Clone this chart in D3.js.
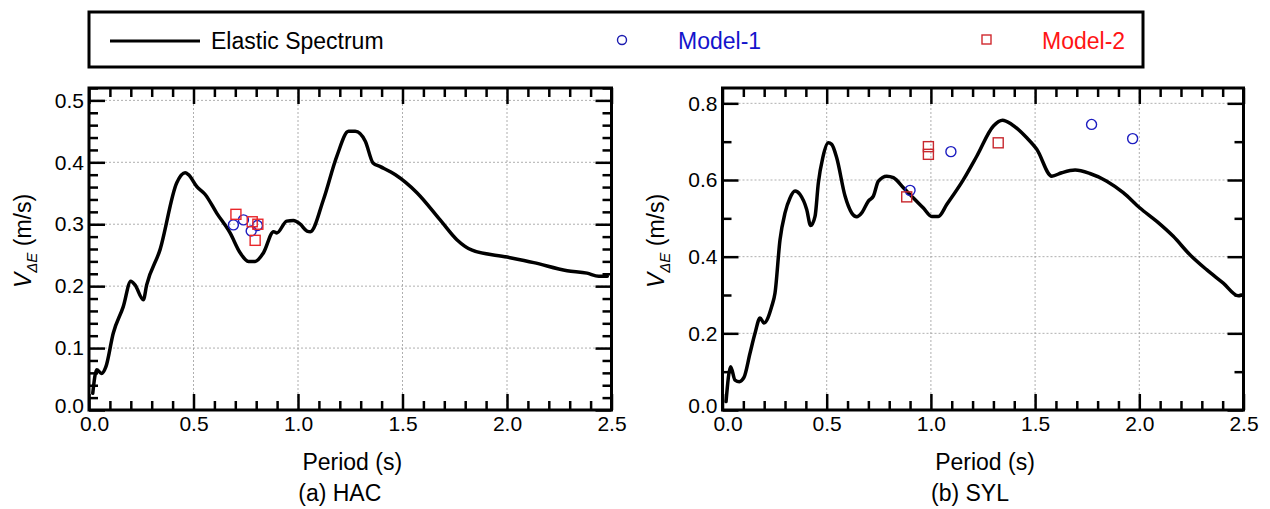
<!DOCTYPE html>
<html>
<head>
<meta charset="utf-8">
<script src="https://cdn.jsdelivr.net/npm/d3@7"></script>
<style>
  body { margin: 0; background: #fff; }
  svg { display: block; }
  text { font-family: "Liberation Sans", Arial, Helvetica, sans-serif; }
</style>
</head>
<body>
<svg id="chart" width="1270" height="509"></svg>
<script>
// ---- data: [period (s), V_dE (m/s)] ----
const hacSpectrum = [
  [0.018, 0.027], [0.037, 0.065], [0.06, 0.059], [0.081, 0.070], [0.116, 0.124],
  [0.164, 0.167], [0.20, 0.208], [0.22, 0.202], [0.26, 0.178], [0.276, 0.202],
  [0.34, 0.259], [0.42, 0.367], [0.46, 0.383], [0.476, 0.380], [0.515, 0.361],
  [0.556, 0.348], [0.611, 0.318], [0.675, 0.286], [0.723, 0.254], [0.763, 0.240],
  [0.795, 0.240], [0.835, 0.254], [0.883, 0.288], [0.899, 0.286], [0.946, 0.305],
  [0.978, 0.306], [1.011, 0.300], [1.043, 0.289], [1.059, 0.288], [1.122, 0.340],
  [1.186, 0.410], [1.242, 0.450], [1.274, 0.450], [1.322, 0.434], [1.359, 0.399],
  [1.394, 0.393], [1.466, 0.380], [1.569, 0.351], [1.68, 0.307], [1.76, 0.275],
  [1.833, 0.258], [2.0, 0.247], [2.128, 0.238], [2.288, 0.225], [2.383, 0.221],
  [2.439, 0.216], [2.48, 0.216]
];
const hacModel1 = [[0.691, 0.299], [0.739, 0.307], [0.776, 0.289], [0.806, 0.298]];
const hacModel2 = [[0.703, 0.316], [0.781, 0.304], [0.808, 0.300], [0.795, 0.274]];

const sylSpectrum = [
  [0.017, 0.022], [0.039, 0.113], [0.06, 0.078], [0.081, 0.074], [0.103, 0.085],
  [0.132, 0.148], [0.156, 0.200], [0.18, 0.240], [0.199, 0.227], [0.236, 0.270],
  [0.252, 0.305], [0.276, 0.444], [0.30, 0.514], [0.324, 0.553], [0.348, 0.571],
  [0.372, 0.562], [0.404, 0.523], [0.423, 0.481], [0.444, 0.505], [0.46, 0.593],
  [0.481, 0.658], [0.508, 0.697], [0.524, 0.693], [0.548, 0.658], [0.588, 0.558],
  [0.62, 0.514], [0.644, 0.504], [0.668, 0.514], [0.70, 0.545], [0.724, 0.558],
  [0.748, 0.597], [0.788, 0.610], [0.82, 0.606], [0.868, 0.580], [0.916, 0.553],
  [0.964, 0.527], [1.004, 0.505], [1.036, 0.505], [1.076, 0.536], [1.156, 0.601],
  [1.22, 0.662], [1.30, 0.741], [1.344, 0.756], [1.388, 0.745], [1.46, 0.710],
  [1.508, 0.680], [1.58, 0.610], [1.628, 0.619], [1.692, 0.626], [1.763, 0.617],
  [1.844, 0.597], [1.923, 0.567], [2.003, 0.527], [2.084, 0.492], [2.163, 0.453],
  [2.243, 0.405], [2.323, 0.366], [2.403, 0.331], [2.475, 0.298], [2.49, 0.300]
];
const sylModel1 = [[0.90, 0.573], [1.096, 0.674], [1.771, 0.745], [1.968, 0.708]];
const sylModel2 = [[0.884, 0.556], [0.988, 0.687], [0.988, 0.667], [1.323, 0.697]];

const xMajorTicks = [0, 0.5, 1.0, 1.5, 2.0, 2.5];
const hacYTicks = [0, 0.1, 0.2, 0.3, 0.4, 0.5];
const sylYTicks = [0, 0.2, 0.4, 0.6, 0.8];
const legendLabels = ["Elastic Spectrum", "Model-1", "Model-2"];
const captions = ["(a) HAC", "(b) SYL"];

// ---- layout ----
const svg = d3.select("#chart");
const plotTop = 88, plotBottom = 410;
const fmt = d3.format(".1f");

const panels = [
  { left: 89, right: 611.5, yMax: 0.52, yTicks: hacYTicks, yMinorStep: 0.02,
    spectrum: hacSpectrum, m1: hacModel1, m2: hacModel2, caption: captions[0],
    sqColor: "#e8262a", labelX: 31 },
  { left: 722.5, right: 1243.5, yMax: 0.84, yTicks: sylYTicks, yMinorStep: 0.1,
    spectrum: sylSpectrum, m1: sylModel1, m2: sylModel2, caption: captions[1],
    sqColor: "#c8282e", labelX: 664 }
];

function range(start, stop, step) {
  const out = [];
  const n = Math.floor((stop - start) / step + 1e-6);
  for (let i = 0; i <= n; i++) out.push(+(start + i * step).toFixed(4));
  return out;
}

panels.forEach(p => {
  const x = d3.scaleLinear().domain([0, 2.5]).range([p.left, p.right]);
  const y = d3.scaleLinear().domain([0, p.yMax]).range([plotBottom, plotTop]);
  const g = svg.append("g");

  const xMinor = range(0, 2.5, 0.1).filter(v => !xMajorTicks.some(m => Math.abs(m - v) < 1e-6));
  const yMinor = range(0, p.yMax, p.yMinorStep).filter(v => !p.yTicks.some(m => Math.abs(m - v) < 1e-6));

  // grid
  g.append("g").selectAll("line").data(xMajorTicks.slice(1, -1)).join("line")
    .attr("x1", d => x(d)).attr("x2", d => x(d)).attr("y1", plotTop).attr("y2", plotBottom)
    .attr("stroke", "#9a9a9a").attr("stroke-width", 0.8).attr("stroke-dasharray", "2,2");
  g.append("g").selectAll("line").data(p.yTicks.slice(1)).join("line")
    .attr("x1", p.left).attr("x2", p.right).attr("y1", d => y(d)).attr("y2", d => y(d))
    .attr("stroke", "#9a9a9a").attr("stroke-width", 0.8).attr("stroke-dasharray", "2,2");

  // inward ticks on all four sides
  const tickStyle = sel => {
    sel.select(".domain").remove();
    sel.selectAll(".tick line").attr("stroke", "#000").attr("stroke-width", 2.5);
  };
  const majorLen = -16, minorLen = -9;

  g.append("g").attr("transform", `translate(0,${plotBottom})`)
    .call(d3.axisBottom(x).tickValues(xMinor).tickSize(minorLen).tickFormat(""))
    .call(tickStyle);
  g.append("g").attr("transform", `translate(0,${plotTop})`)
    .call(d3.axisTop(x).tickValues(xMinor).tickSize(minorLen).tickFormat(""))
    .call(tickStyle);
  g.append("g").attr("transform", `translate(0,${plotTop})`)
    .call(d3.axisTop(x).tickValues(xMajorTicks).tickSize(majorLen).tickFormat(""))
    .call(tickStyle);
  g.append("g").attr("transform", `translate(${p.left},0)`)
    .call(d3.axisLeft(y).tickValues(yMinor).tickSize(minorLen).tickFormat(""))
    .call(tickStyle);
  g.append("g").attr("transform", `translate(${p.right},0)`)
    .call(d3.axisRight(y).tickValues(yMinor).tickSize(minorLen).tickFormat(""))
    .call(tickStyle);
  g.append("g").attr("transform", `translate(${p.right},0)`)
    .call(d3.axisRight(y).tickValues(p.yTicks).tickSize(majorLen).tickFormat(""))
    .call(tickStyle);

  const xAxis = g.append("g").attr("transform", `translate(0,${plotBottom})`)
    .call(d3.axisBottom(x).tickValues(xMajorTicks).tickSize(majorLen).tickPadding(6).tickFormat(fmt))
    .call(tickStyle);
  xAxis.selectAll("text").attr("font-size", 21).attr("fill", "#000");
  // the two "0.0" labels crowd each other at the corner, as in the source figure
  xAxis.selectAll("text").filter(d => d === 0).attr("x", 5);

  const yAxis = g.append("g").attr("transform", `translate(${p.left},0)`)
    .call(d3.axisLeft(y).tickValues(p.yTicks).tickSize(majorLen).tickPadding(5).tickFormat(fmt))
    .call(tickStyle);
  yAxis.selectAll("text").attr("font-size", 21).attr("fill", "#000");
  yAxis.selectAll("text").filter(d => d === 0).attr("y", -4);
  xAxis.attr("font-family", null);
  yAxis.attr("font-family", null);

  // frame
  g.append("rect").attr("x", p.left).attr("y", plotTop)
    .attr("width", p.right - p.left).attr("height", plotBottom - plotTop)
    .attr("fill", "none").attr("stroke", "#000").attr("stroke-width", 3);

  // spectrum
  const line = d3.line().x(d => x(d[0])).y(d => y(d[1])).curve(d3.curveMonotoneX);
  g.append("path").datum(p.spectrum).attr("d", line)
    .attr("fill", "none").attr("stroke", "#000").attr("stroke-width", 3.5)
    .attr("stroke-linejoin", "round").attr("stroke-linecap", "round");

  // models
  g.append("g").selectAll("circle").data(p.m1).join("circle")
    .attr("cx", d => x(d[0])).attr("cy", d => y(d[1])).attr("r", 5)
    .attr("fill", "none").attr("stroke", "#1c1cc0").attr("stroke-width", 1.4);
  g.append("g").selectAll("rect").data(p.m2).join("rect")
    .attr("x", d => x(d[0]) - 5).attr("y", d => y(d[1]) - 5)
    .attr("width", 10).attr("height", 10)
    .attr("fill", "none").attr("stroke", p.sqColor).attr("stroke-width", 1.4);

  // titles
  g.append("text").attr("x", (p.left + p.right) / 2 + 2).attr("y", 470)
    .attr("text-anchor", "middle").attr("font-size", 23).text("Period (s)");
  g.append("text").attr("x", (p.left + p.right) / 2 - 52).attr("y", 501)
    .attr("font-size", 23).text(p.caption);

  const yl = g.append("text")
    .attr("transform", `translate(${p.labelX},${(plotTop + plotBottom) / 2 - 8}) rotate(-90)`)
    .attr("text-anchor", "middle").attr("font-size", 23);
  yl.append("tspan").attr("font-style", "italic").text("V");
  yl.append("tspan").attr("font-style", "italic").attr("font-size", 15).attr("dy", 6).text("\u0394E");
  yl.append("tspan").attr("dy", -6).text(" (m/s)");
});

// ---- legend ----
const lg = svg.append("g");
lg.append("rect").attr("x", 89).attr("y", 12).attr("width", 1054).attr("height", 55)
  .attr("fill", "#fff").attr("stroke", "#000").attr("stroke-width", 3);
lg.append("line").attr("x1", 110).attr("x2", 200).attr("y1", 41).attr("y2", 41)
  .attr("stroke", "#000").attr("stroke-width", 3);
lg.append("text").attr("x", 211).attr("y", 49).attr("font-size", 23).text(legendLabels[0]);
lg.append("circle").attr("cx", 622).attr("cy", 40).attr("r", 4.5)
  .attr("fill", "none").attr("stroke", "#1c1cb0").attr("stroke-width", 1.4);
lg.append("text").attr("x", 678).attr("y", 49).attr("font-size", 23).attr("fill", "#1414cc").text(legendLabels[1]);
lg.append("rect").attr("x", 982).attr("y", 35).attr("width", 9).attr("height", 9)
  .attr("fill", "none").attr("stroke", "#d0282e").attr("stroke-width", 1.4);
lg.append("text").attr("x", 1042).attr("y", 49).attr("font-size", 23).attr("fill", "#ff1414").text(legendLabels[2]);
</script>
</body>
</html>
